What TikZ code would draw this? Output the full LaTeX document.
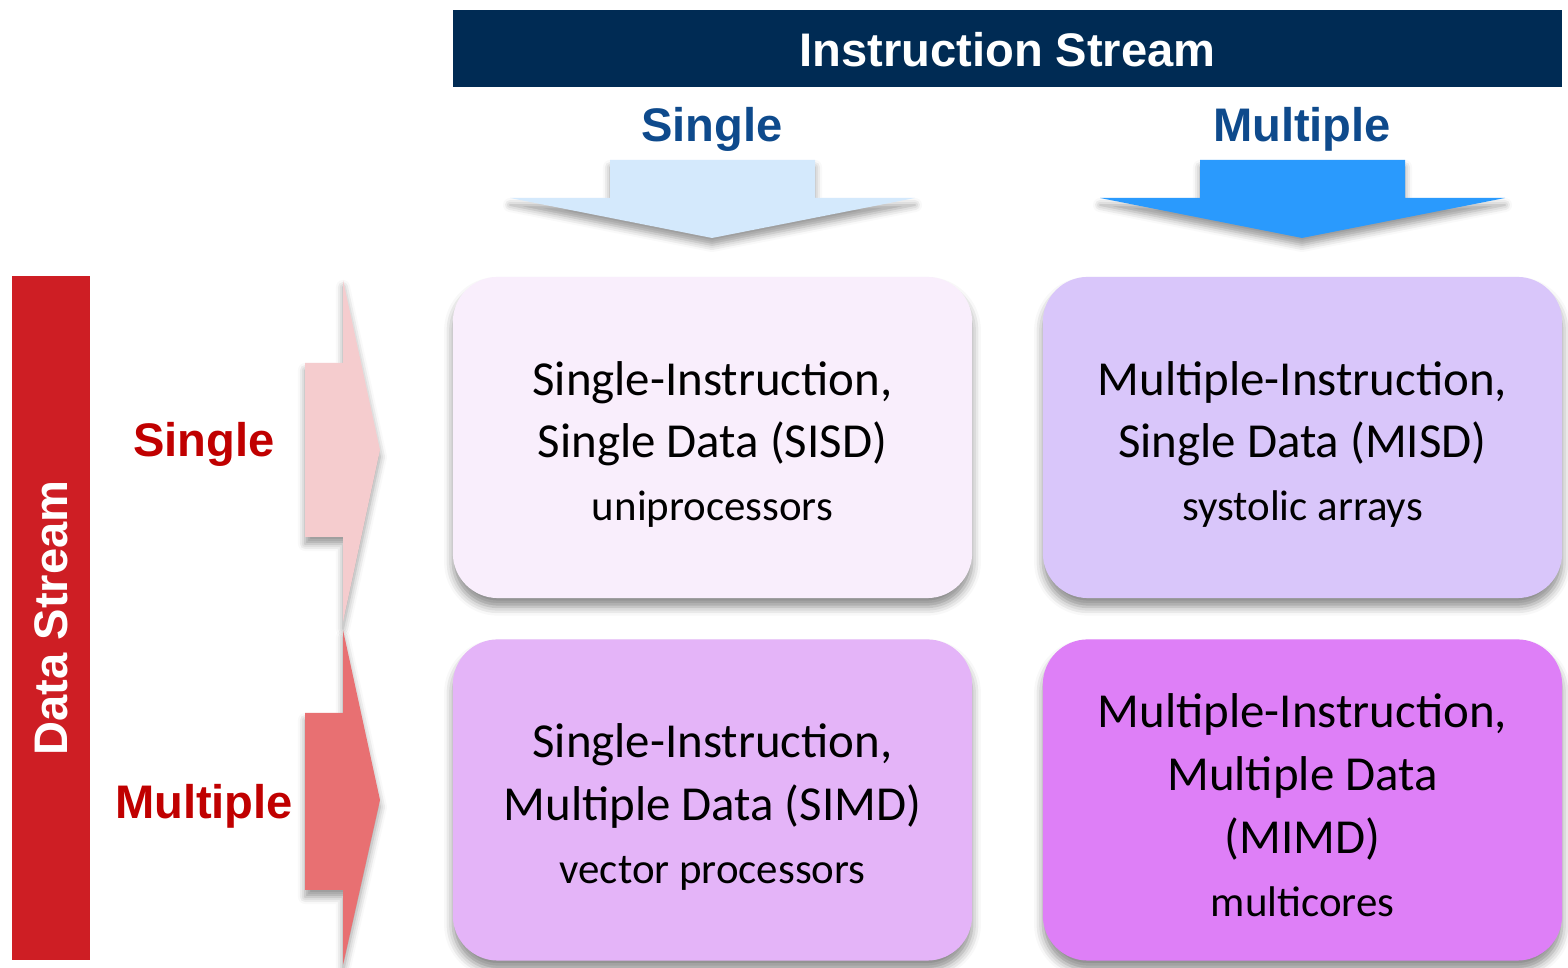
\documentclass[tikz,border=0pt]{standalone}
\usepackage{fontspec}
\setmainfont{Carlito}
\setsansfont{Liberation Sans}
\usetikzlibrary{shadows.blur}
\definecolor{navy}{RGB}{0,43,84}
\definecolor{iblue}{RGB}{14,74,140}
\definecolor{dred}{RGB}{206,30,36}
\definecolor{lred}{RGB}{192,0,0}
\definecolor{arrlb}{RGB}{212,233,252}
\definecolor{arrdb}{RGB}{42,154,253}
\definecolor{arrlr}{RGB}{245,204,206}
\definecolor{arrdr}{RGB}{232,112,114}
\definecolor{sisdc}{RGB}{249,238,252}
\definecolor{misdc}{RGB}{217,198,250}
\definecolor{simdc}{RGB}{228,180,248}
\definecolor{mimdc}{RGB}{222,127,247}
\newcommand{\subtext}{\fontsize{12.2}{17.6}\selectfont}
\tikzset{
  head/.style={font=\sffamily\bfseries\fontsize{13.4}{16}\selectfont},
  cell/.style={rounded corners=0.45cm, minimum width=5.19cm, minimum height=3.21cm,
    blur shadow={shadow xshift=0pt, shadow yshift=-2.5pt, shadow blur radius=2.5pt, shadow opacity=45}},
  celltext/.style={align=center, font=\fontsize{13.9}{17.9}\selectfont},
  arr/.style={blur shadow={shadow xshift=0pt, shadow yshift=-2pt, shadow blur radius=2pt, shadow opacity=40}}
}
\begin{document}
\begin{tikzpicture}[x=0.01cm,y=-0.01cm]
  \useasboundingbox (0,0) rectangle (1568,968);
  \node[fill=navy, minimum width=11.09cm, minimum height=0.77cm, inner sep=0pt] (ibar) at (1007.5,48.5) {};
  \node[head, text=white, anchor=base] (istream) at (1007.5,67) {Instruction Stream};
  \node[head, text=iblue, anchor=base] (isingle) at (712,142) {Single};
  \node[head, text=iblue, anchor=base] (imulti) at (1302,142) {Multiple};
  \fill[arrlb, arr] (610,160) -- (815,160) -- (815,198) -- (915,198) -- (712,238) -- (510,198) -- (610,198) -- cycle;
  \fill[arrdb, arr] (1200,160) -- (1405,160) -- (1405,198) -- (1505,198) -- (1302,238) -- (1100,198) -- (1200,198) -- cycle;
  \node[fill=dred, rotate=90, minimum width=6.84cm, minimum height=0.78cm, inner sep=0pt, head, text=white] (dstream) at (51,618) {Data Stream};
  \node[head, text=lred, anchor=base] (dsingle) at (204,457) {Single};
  \node[head, text=lred, anchor=base] (dmulti) at (204,819) {Multiple};
  \fill[arrlr, arr] (305,363) -- (343,363) -- (343,280) -- (380,450) -- (343,622) -- (343,537) -- (305,537) -- cycle;
  \fill[arrdr, arr] (305,713) -- (343,713) -- (343,630) -- (380,800) -- (343,965) -- (343,890) -- (305,890) -- cycle;
  \node[cell, fill=sisdc] (sisd) at (712.5,437.5) {};
  \node[cell, fill=misdc] (misd) at (1302.5,437.5) {};
  \node[cell, fill=simdc] (simd) at (712.5,800) {};
  \node[cell, fill=mimdc] (mimd) at (1302.5,800) {};
  \node[celltext] (sisdt) at (712.5,444.5) {Single-Instruction,\\Single Data (SISD)\\{\subtext uniprocessors}};
  \node[celltext] (misdt) at (1302.5,444.5) {Multiple-Instruction,\\Single Data (MISD)\\{\subtext systolic arrays}};
  \node[celltext] (simdt) at (712.5,807) {Single-Instruction,\\Multiple Data (SIMD)\\{\subtext vector processors}};
  \node[celltext] (mimdt) at (1302.5,805) {Multiple-Instruction,\\Multiple Data\\(MIMD)\\{\subtext multicores}};
\end{tikzpicture}
\end{document}
